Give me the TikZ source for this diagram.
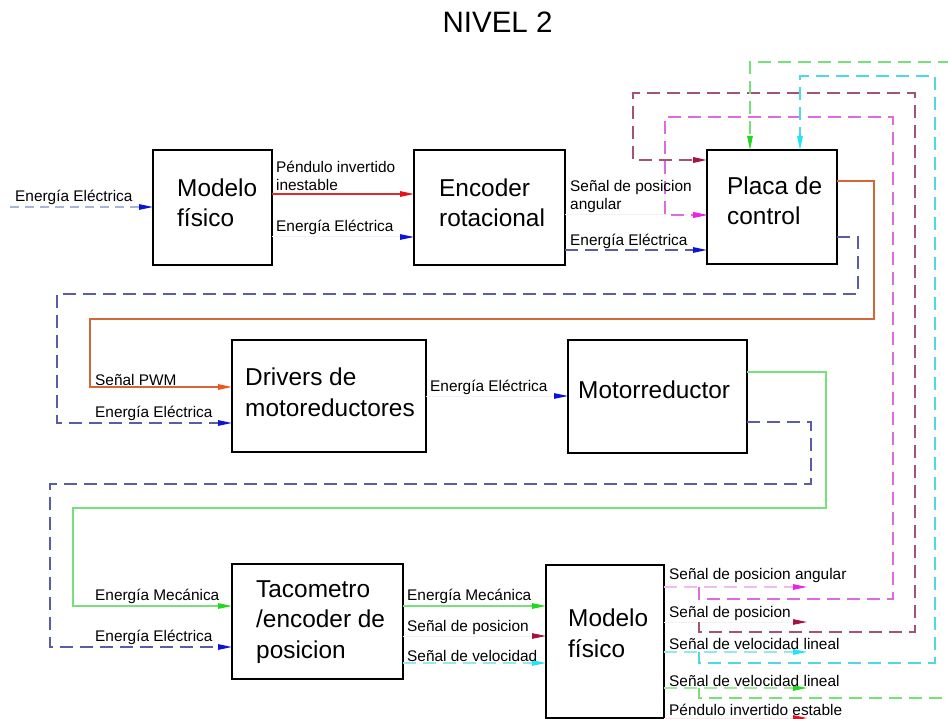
\documentclass[tikz,border=0pt]{standalone}
\usepackage{fontspec}
\setmainfont{Liberation Sans}
\usetikzlibrary{arrows.meta}

% line and tip colours
\definecolor{cNavy}{HTML}{5A5CA6}
\definecolor{cBlue}{HTML}{0B14D6}
\definecolor{cRed}{HTML}{E02A2A}
\definecolor{cRedTip}{HTML}{E8101A}
\definecolor{cOrange}{HTML}{D4663A}
\definecolor{cOrangeTip}{HTML}{F0561A}
\definecolor{cMag}{HTML}{DC6CDC}
\definecolor{cMagTip}{HTML}{F020E6}
\definecolor{cMaroon}{HTML}{A05578}
\definecolor{cMaroonTip}{HTML}{A8123E}
\definecolor{cCyan}{HTML}{4ED8E0}
\definecolor{cCyanTip}{HTML}{22E6F8}
\definecolor{cGreen}{HTML}{78E078}
\definecolor{cGreenTip}{HTML}{22D822}
\definecolor{cInput}{HTML}{A8B4D8}

\tikzset{
  box/.style={draw=black, line width=2pt, inner sep=0pt, outer sep=0pt, anchor=north west},
  boxtext/.style={inner sep=0pt, anchor=base west, align=left, font=\fontsize{24.4}{30.5}\selectfont},
  lbl/.style={inner sep=0pt, anchor=base west, align=left, font=\fontsize{15.4}{18.5}\selectfont},
  ttl/.style={inner sep=0pt, anchor=base, font=\fontsize{29.5}{35}\selectfont},
  dsh/.style={dash pattern=on 13pt off 7pt},
  tipc/.style={-{Triangle[length=14pt,width=5.5pt,color=#1]}},
  navy/.style={cNavy, line width=1.3pt, dsh, tipc=cBlue},
  orangeline/.style={cOrange, line width=1.3pt, tipc=cOrangeTip},
  magline/.style={cMag, line width=1.3pt, dsh},
  maroonline/.style={cMaroon, line width=1.8pt, dsh},
  cyanline/.style={cCyan, line width=1.4pt, dsh},
  greenfb/.style={cGreen, line width=1.3pt, dsh},
  greensolid/.style={cGreen, line width=1.3pt, tipc=cGreenTip},
}

\begin{document}
\begin{tikzpicture}[x=1pt,y=-1pt]
\useasboundingbox (0,0) rectangle (948,719);
\clip (0,0) rectangle (948,719);
\fill[white] (0,0) rectangle (948,719);

\node[ttl] (title) at (497.5,33) {NIVEL 2};

% blocks
\node[box, minimum width=119pt, minimum height=115pt] (m1) at (153,150) {};
\node[box, minimum width=151pt, minimum height=115pt] (enc) at (414,150) {};
\node[box, minimum width=130pt, minimum height=114pt] (placa) at (707,150) {};
\node[box, minimum width=194pt, minimum height=112pt] (drv) at (232,340) {};
\node[box, minimum width=179pt, minimum height=113pt] (motor) at (568,340) {};
\node[box, minimum width=171pt, minimum height=115pt] (taco) at (232,564) {};
\node[box, minimum width=118pt, minimum height=153pt] (mf2) at (546,565) {};

% block captions (placed by the baseline of their last line)
\node[boxtext] (m1t) at (177,227) {Modelo\\físico};
\node[boxtext] (enct) at (439,227) {Encoder\\rotacional};
\node[boxtext] (placat) at (727,225) {Placa de\\control};
\node[boxtext] (drvt) at (245,416) {Drivers de\\motoreductores};
\node[boxtext] (motort) at (578,398) {Motorreductor};
\node[boxtext] (tacot) at (256,658) {Tacometro\\/encoder de\\posicion};
\node[boxtext] (mf2t) at (568,657) {Modelo\\físico};

% free ends
\coordinate (inE) at (10,207);
\coordinate (tapA) at (699,587);
\coordinate (tapB) at (699,622);
\coordinate (tapC) at (699,652);
\coordinate (tapD) at (699,688);
\coordinate (outA) at (807,587);
\coordinate (outB) at (807,622);
\coordinate (outC) at (807,652);
\coordinate (outD) at (807,688);
\coordinate (outE) at (807,718);

% top row
\draw[cInput, line width=1.2pt, dash pattern=on 9pt off 6pt, tipc=cBlue] (inE) -- (m1.west |- 0,207);
\draw[cRed, line width=1.2pt, tipc=cRedTip] (m1.east |- 0,194) -- (enc.west |- 0,194);
\draw[cBlue!6, line width=1pt, tipc=cBlue] (m1.east |- 0,237) -- (enc.west |- 0,237);
\draw[cMag!12, line width=1pt, tipc=cMagTip] (enc.east |- 0,215) -- (placa.west |- 0,215);
\draw[navy] (enc.east |- 0,250) -- (placa.west |- 0,250);

% from the control board to the drivers
\draw[orangeline] (placa.east |- 0,181) -| (874,319) -| (90,387) -- (drv.west |- 0,387);
\draw[navy] (placa.east |- 0,237) -| (858,294) -| (57,423) -- (drv.west |- 0,423);

% drivers to gearmotor
\draw[cBlue!6, line width=1pt, tipc=cBlue] (drv.east |- 0,396) -- (motor.west |- 0,396);

% gearmotor to tachometer
\draw[greensolid] (motor.east |- 0,372) -| (826,508) -| (73,606) -- (taco.west |- 0,606);
\draw[navy] (motor.east |- 0,422) -| (811,484) -| (50,647) -- (taco.west |- 0,647);

% tachometer to physical model
\draw[greensolid] (taco.east |- 0,606) -- (mf2.west |- 0,606);
\draw[cMaroon!10, line width=1pt, tipc=cMaroonTip] (taco.east |- 0,636) -- (mf2.west |- 0,636);
\draw[cCyan!60, line width=1.2pt, dsh, tipc=cCyanTip] (taco.east |- 0,663) -- (mf2.west |- 0,663);

% outputs of the physical model
\draw[cMag!45, line width=1.2pt, dsh, tipc=cMagTip] (mf2.east |- 0,587) -- (outA);
\draw[cMaroon!10, line width=1pt, tipc=cMaroonTip] (mf2.east |- 0,622) -- (outB);
\draw[cCyan!60, line width=1.2pt, dsh, tipc=cCyanTip] (mf2.east |- 0,652) -- (outC);
\draw[cGreen!70, line width=1.2pt, dsh, tipc=cGreenTip] (mf2.east |- 0,688) -- (outD);
\draw[cRed!10, line width=1pt, tipc=cRedTip] (mf2.east |- 0,718) -- (outE);

% feedback loops to the control board
\draw[magline, tipc=cMagTip] (tapA) |- (893,599) |- (665,117) |- (placa.west |- 0,215);
\draw[maroonline, tipc=cMaroonTip] (tapB) |- (915,632) |- (633,93) |- (placa.west |- 0,160);
\draw[cyanline, tipc=cCyanTip] (tapC) |- (935,663) |- (800,76) -- (placa.north -| 800,0);
\draw[greenfb, tipc=cGreenTip] (tapD) |- (962,698) |- (750,62) -- (placa.north -| 750,0);

% labels (placed by the baseline of their last line)
\node[lbl] (l1) at (15,202) {Energía Eléctrica};
\node[lbl] (l2) at (276,191) {Péndulo invertido\\inestable};
\node[lbl] (l3) at (276,232) {Energía Eléctrica};
\node[lbl] (l4) at (570,210) {Señal de posicion\\angular};
\node[lbl] (l5) at (570,246) {Energía Eléctrica};
\node[lbl] (l6) at (95,385) {Señal PWM};
\node[lbl] (l7) at (95,417) {Energía Eléctrica};
\node[lbl] (l8) at (430,391) {Energía Eléctrica};
\node[lbl] (l9) at (95,600) {Energía Mecánica};
\node[lbl] (l10) at (95,641) {Energía Eléctrica};
\node[lbl] (l11) at (407,600) {Energía Mecánica};
\node[lbl] (l12) at (407,631) {Señal de posicion};
\node[lbl] (l13) at (407,661) {Señal de velocidad};
\node[lbl] (l14) at (669,579) {Señal de posicion angular};
\node[lbl] (l15) at (669,617) {Señal de posicion};
\node[lbl] (l16) at (669,649) {Señal de velocidad lineal};
\node[lbl] (l17) at (669,686) {Señal de velocidad lineal};
\node[lbl] (l18) at (669,715) {Péndulo invertido estable};
\end{tikzpicture}
\end{document}
